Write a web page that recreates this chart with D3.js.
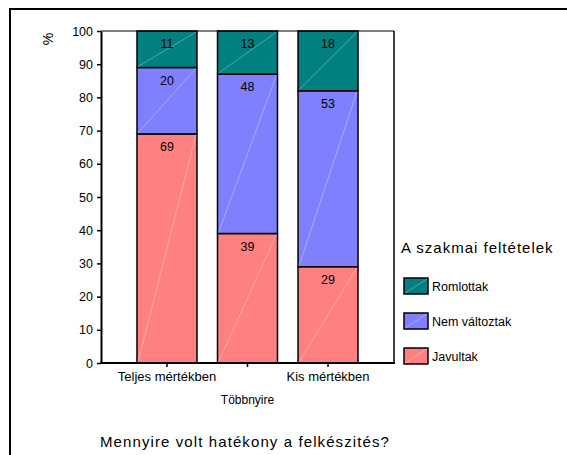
<!DOCTYPE html>
<html><head><meta charset="utf-8">
<script src="https://cdn.jsdelivr.net/npm/d3@7"></script>
<style>body{margin:0;background:#fff}svg{display:block;font-family:Arial,"Liberation Sans",sans-serif}</style>
</head><body><svg id="c" width="567" height="455"></svg>
<script>
const categories = ["Teljes mértékben", "Többnyire", "Kis mértékben"];
const seriesNames = ["Javultak", "Nem változtak", "Romlottak"];
const javultak = [69, 39, 29];
const nemValtoztak = [20, 48, 53];
const romlottak = [11, 13, 18];
const yTicks = [0, 10, 20, 30, 40, 50, 60, 70, 80, 90, 100];
const colors = ["#FF8080", "#8080FF", "#008080"];

const svg = d3.select("#c");
const L = 101, R = 394, T = 31, B = 363;
const FONT = "Arial, 'Liberation Sans', sans-serif";
const x = d3.scaleBand().domain(categories).range([L, R]).paddingInner(0.255).paddingOuter(0.447);
const y = d3.scaleLinear().domain([0, 100]).range([B, T]);

// outer frame
svg.append("rect").attr("x", 10).attr("y", 9).attr("width", 700).attr("height", 600)
  .attr("fill", "none").attr("stroke", "#000").attr("stroke-width", 2);

const rows = categories.map((c, i) => ({cat: c, Javultak: javultak[i], "Nem változtak": nemValtoztak[i], Romlottak: romlottak[i]}));
const stacked = d3.stack().keys(seriesNames)(rows);

const g = svg.append("g");
stacked.forEach((layer, si) => {
  layer.forEach(d => {
    const x0 = x(d.data.cat), w = x.bandwidth();
    const yt = y(d[1]), yb = y(d[0]);
    g.append("rect").attr("x", x0).attr("y", yt).attr("width", w).attr("height", yb - yt)
      .attr("fill", colors[si]).attr("stroke", "#000").attr("stroke-width", 1.5);
    g.append("line").attr("x1", x0 + 1).attr("y1", yb - 1).attr("x2", x0 + w - 1).attr("y2", yt + 1)
      .attr("stroke", "#fff").attr("stroke-opacity", 0.45).attr("stroke-width", 0.7);
    g.append("text").attr("x", x0 + w / 2).attr("y", yt + 17).attr("text-anchor", "middle")
      .attr("font-size", 12.5).attr("fill", "#000").text(d[1] - d[0]);
  });
});

// plot frame top/right
svg.append("line").attr("x1", L).attr("x2", R).attr("y1", T).attr("y2", T).attr("stroke", "#000").attr("stroke-width", 1.2);
svg.append("line").attr("x1", R).attr("x2", R).attr("y1", T).attr("y2", B).attr("stroke", "#000").attr("stroke-width", 1.5);

// y axis
const ya = svg.append("g").attr("transform", `translate(${L},0)`)
  .call(d3.axisLeft(y).tickValues(yTicks).tickSize(4).tickPadding(4).tickSizeOuter(0));
ya.select(".domain").attr("stroke-width", 2);
ya.selectAll("line").attr("stroke-width", 1.5);
ya.selectAll("text").attr("font-size", 12.5).attr("font-family", FONT).attr("fill", "#000");

// x axis
const xa = svg.append("g").attr("transform", `translate(0,${B})`)
  .call(d3.axisBottom(x).tickSize(4).tickSizeOuter(0));
xa.select(".domain").attr("stroke-width", 2).attr("d", `M${L - 1},0H${R + 1}`);
xa.selectAll("line").attr("stroke-width", 1.5);
xa.selectAll("text").attr("font-family", FONT).attr("fill", "#000")
  .attr("font-size", (d, i) => i === 1 ? 12 : 13)
  .attr("y", (d, i) => i === 1 ? 32 : 9).attr("dy", "0.71em");

// y label
svg.append("text").attr("transform", "translate(53,39) rotate(-90)").attr("text-anchor", "middle")
  .attr("font-size", 14).text("%");

// x title
svg.append("text").attr("x", 100).attr("y", 447).attr("font-size", 15).attr("letter-spacing", 1.1)
  .text("Mennyire volt hatékony a felkészités?");

// legend
svg.append("text").attr("x", 401).attr("y", 253).attr("font-size", 15).attr("letter-spacing", 1.0)
  .text("A szakmai feltételek");
const legendOrder = [2, 1, 0];
legendOrder.forEach((si, k) => {
  const ly = 278 + k * 35;
  svg.append("rect").attr("x", 404).attr("y", ly).attr("width", 24).attr("height", 16)
    .attr("fill", colors[si]).attr("stroke", "#000").attr("stroke-width", 1.5);
  svg.append("line").attr("x1", 405).attr("y1", ly + 15).attr("x2", 427).attr("y2", ly + 1)
    .attr("stroke", "#fff").attr("stroke-opacity", 0.45).attr("stroke-width", 0.7);
  svg.append("text").attr("x", 432).attr("y", ly + 13).attr("font-size", 12.5).text(seriesNames[si]);
});
</script></body></html>
